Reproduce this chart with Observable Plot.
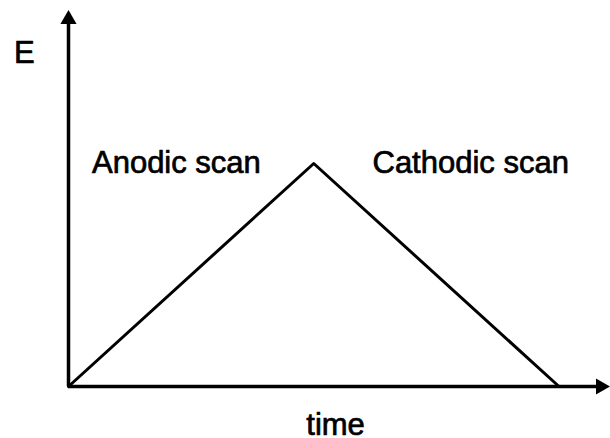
<!DOCTYPE html>
<html>
<head>
<meta charset="utf-8">
<script src="https://cdn.jsdelivr.net/npm/d3@7"></script>
<script src="https://cdn.jsdelivr.net/npm/@observablehq/plot@0.6"></script>
<style>
  html, body { margin: 0; padding: 0; background: #fff; }
  #chart { width: 610px; height: 438px; }
</style>
</head>
<body>
<div id="chart"></div>
<script>
// Triangular potential sweep: E vs time
const time = [0, 1, 2];
const potential = [0, 1, 0];

// Axis extents (data units)
const xAxisEnd = 2.17;
const yAxisEnd = 1.646;

// Labels
const labelText = ["Anodic scan", "Cathodic scan", "time", "E"];
const labelX = [0.44, 1.64, 1.089, -0.18];
const labelY = [1.0, 1.0, -0.172, 1.496];

const pts = time.map((t, i) => ({t, e: potential[i]}));
const labels = labelText.map((s, i) => ({s, x: labelX[i], y: labelY[i]}));

const chart = Plot.plot({
  width: 610,
  height: 438,
  marginLeft: 68,
  marginRight: 0,
  marginTop: 0,
  marginBottom: 52,
  x: {domain: [0, 2.21], axis: null},
  y: {domain: [0, 1.731], axis: null},
  style: {fontFamily: "'Liberation Sans', Arial, sans-serif", background: "#fff"},
  marks: [
    Plot.ruleY([0], {x1: 0, x2: xAxisEnd, stroke: "black", strokeWidth: 3.5}),
    Plot.ruleX([0], {y1: 0, y2: yAxisEnd, stroke: "black", strokeWidth: 3.5}),
    Plot.dot([{x: 0, y: yAxisEnd}], {x: "x", y: "y", symbol: "triangle", r: 6, fill: "black", stroke: "none"}),
    Plot.dot([{x: xAxisEnd, y: 0}], {x: "x", y: "y", symbol: "triangle", r: 6, rotate: 90, fill: "black", stroke: "none"}),
    Plot.line(pts, {x: "t", y: "e", stroke: "black", strokeWidth: 3}),
    Plot.text(labels, {x: "x", y: "y", text: "s", fontSize: 31, fill: "black", stroke: "black", strokeWidth: 0.7, textAnchor: "middle", lineAnchor: "middle"})
  ]
});
document.getElementById("chart").appendChild(chart);
</script>
</body>
</html>
